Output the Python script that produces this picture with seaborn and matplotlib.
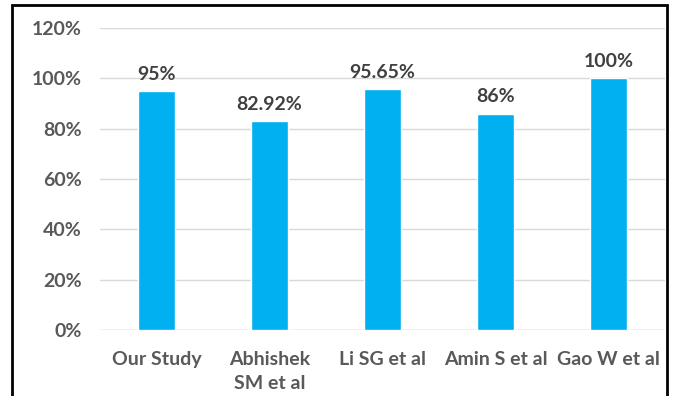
import matplotlib
matplotlib.use("Agg")
import matplotlib.pyplot as plt
import matplotlib.patches as mpatches
import seaborn as sns
import pandas as pd

studies = ["Our Study", "Abhishek\nSM et al", "Li SG et al", "Amin S et al", "Gao W et al"]
values = [95, 82.92, 95.65, 86, 100]
value_labels = ["95%", "82.92%", "95.65%", "86%", "100%"]
yticks = [0, 20, 40, 60, 80, 100, 120]
ytick_labels = ["0%", "20%", "40%", "60%", "80%", "100%", "120%"]

df = pd.DataFrame({"study": studies, "value": values})

sns.set_theme(style="white")
plt.rcParams["font.family"] = ["Lato", "DejaVu Sans"]

W, H = 675, 396
fig = plt.figure(figsize=(W / 100, H / 100), dpi=100)
ax = fig.add_axes([100 / W, 1 - 330 / H, 565 / W, (330 - 28) / H])

sns.barplot(data=df, x="study", y="value", color="#00B0F0", width=0.32,
            saturation=1, ax=ax, zorder=3)

ax.set_xlim(-0.5, 4.5)
ax.set_ylim(0, 120)
ax.set_yticks(yticks)
ax.set_yticklabels(ytick_labels)
ax.yaxis.grid(True, color="#d9d9d9", linewidth=1.0, zorder=0)
ax.set_axisbelow(True)
for s in ax.spines.values():
    s.set_visible(False)
ax.axhline(0, color="#d9d9d9", linewidth=1.0, zorder=1)
ax.tick_params(axis="both", length=0, labelsize=14, labelcolor="#595959")
ax.tick_params(axis="y", pad=13)
ax.tick_params(axis="x", pad=15)
for lab in ax.get_xticklabels():
    lab.set_fontweight("bold")
    lab.set_linespacing(1.5)
for lab in ax.get_yticklabels():
    lab.set_fontweight("bold")
ax.set_xlabel("")
ax.set_ylabel("")

for i, (v, t) in enumerate(zip(values, value_labels)):
    ax.annotate(t, (i, v), xytext=(0, 6), textcoords="offset points",
                ha="center", va="bottom", fontsize=14, fontweight="bold",
                color="#404040")

# outer frame around the chart
frame = mpatches.Rectangle((12 / W, -0.05), (667 - 12) / W, 1.05 - 5 / H,
                           transform=fig.transFigure, fill=False,
                           edgecolor="black", linewidth=2.0)
fig.patches.append(frame)

fig.savefig("out.png", dpi=100, facecolor="white")
